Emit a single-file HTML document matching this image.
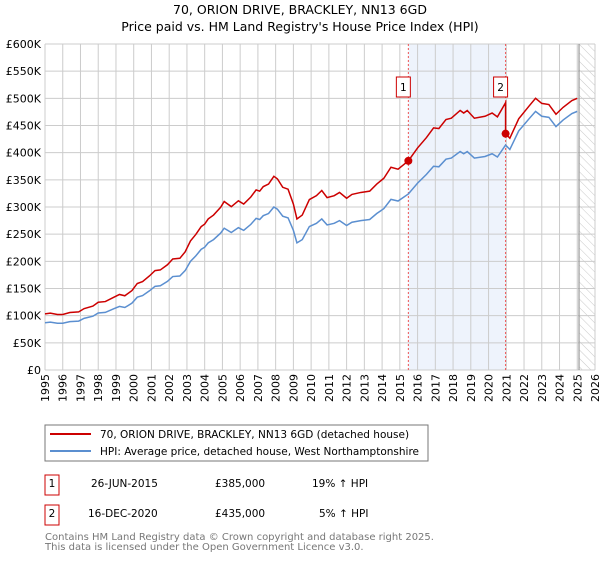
<!DOCTYPE html>
<html><head><meta charset="utf-8"><style>
body{margin:0;background:#fff;font-family:"DejaVu Sans","Liberation Sans",sans-serif;}
svg text{font-family:"DejaVu Sans","Liberation Sans",sans-serif;}
</style></head><body>
<svg id="c" width="600" height="560" viewBox="0 0 600 560">
<defs><pattern id="hatch" width="6" height="6" patternUnits="userSpaceOnUse" patternTransform="rotate(-45)"><line x1="0" y1="0" x2="0" y2="6" stroke="#bbb" stroke-width="0.8"/></pattern></defs>
<text x="300" y="14" text-anchor="middle" font-size="12.5">70, ORION DRIVE, BRACKLEY, NN13 6GD</text>
<text x="300" y="31" text-anchor="middle" font-size="12.5">Price paid vs. HM Land Registry's House Price Index (HPI)</text>
<g id="grid"></g><g id="marks"></g>
<rect x="45" y="425" width="383" height="36" fill="#fff" stroke="#777"/>
<line x1="50" y1="434" x2="91" y2="434" stroke="#cc0000" stroke-width="2"/>
<text x="100" y="438" font-size="10.5">70, ORION DRIVE, BRACKLEY, NN13 6GD (detached house)</text>
<line x1="50" y1="451" x2="91" y2="451" stroke="#5b8fd0" stroke-width="2"/>
<text x="100" y="455" font-size="10.5">HPI: Average price, detached house, West Northamptonshire</text>
<g font-size="10.5">
<rect x="45" y="475" width="14" height="20" fill="none" stroke="#cc0000"/>
<text x="52" y="487" text-anchor="middle">1</text>
<text x="91" y="487">26-JUN-2015</text><text x="215" y="487">£385,000</text><text x="312" y="487">19% ↑ HPI</text>
<rect x="45" y="505" width="14" height="20" fill="none" stroke="#cc0000"/>
<text x="52" y="517" text-anchor="middle">2</text>
<text x="88" y="517">16-DEC-2020</text><text x="215" y="517">£435,000</text><text x="319" y="517">5% ↑ HPI</text>
</g>
<text x="45" y="540" font-size="10" fill="#777">Contains HM Land Registry data © Crown copyright and database right 2025.</text>
<text x="45" y="550" font-size="10" fill="#777">This data is licensed under the Open Government Licence v3.0.</text>
</svg>
<script>
const yTicks=[0,50,100,150,200,250,300,350,400,450,500,550,600];
const yTickLabels=["£0","£50K","£100K","£150K","£200K","£250K","£300K","£350K","£400K","£450K","£500K","£550K","£600K"];
const xYears=[1995,1996,1997,1998,1999,2000,2001,2002,2003,2004,2005,2006,2007,2008,2009,2010,2011,2012,2013,2014,2015,2016,2017,2018,2019,2020,2021,2022,2023,2024,2025,2026];
const hpiDates=[1995.0,1995.3,1995.7,1996.0,1996.4,1996.9,1997.2,1997.7,1998.0,1998.4,1998.9,1999.2,1999.5,1999.9,2000.2,2000.5,2000.9,2001.2,2001.5,2001.9,2002.2,2002.6,2002.9,2003.2,2003.5,2003.8,2004.0,2004.2,2004.5,2004.9,2005.1,2005.5,2005.9,2006.2,2006.6,2006.9,2007.1,2007.3,2007.6,2007.9,2008.1,2008.4,2008.7,2009.0,2009.2,2009.5,2009.9,2010.3,2010.6,2010.9,2011.3,2011.6,2012.0,2012.3,2012.8,2013.3,2013.7,2014.1,2014.5,2014.9,2015.48,2016.0,2016.5,2016.9,2017.2,2017.6,2017.9,2018.4,2018.6,2018.8,2019.2,2019.8,2020.2,2020.5,2020.96,2021.2,2021.7,2022.3,2022.65,2023.0,2023.4,2023.8,2024.2,2024.7,2025.0];
const hpiValues=[87,88,86,86,89,90,95,99,105,106,113,117,115,123,134,137,146,154,155,163,172,173,183,200,210,222,226,234,240,252,261,253,262,257,268,279,277,284,288,300,296,283,280,257,234,240,264,270,278,267,270,275,266,272,275,277,288,297,314,311,324,344,360,375,374,388,390,402,398,402,390,393,398,392,414,406,440,463,476,467,465,448,460,472,476];
const saleDates=[2015.48,2020.96];
const salePrices=[385,435];
const saleLabels=["1","2"];
const dataEnd=2025.1;

const X0=45,X1=595,Y0=370,Y1=44;
const xs=y=>X0+(y-1995)/(2026-1995)*(X1-X0);
const ys=v=>Y0-v/600*(Y0-Y1);
const NS="http://www.w3.org/2000/svg";
function mk(tag,attrs,parent){const e=document.createElementNS(NS,tag);for(const k in attrs)e.setAttribute(k,attrs[k]);parent.appendChild(e);return e;}
const grid=document.getElementById('grid'),marks=document.getElementById('marks');
function hpiAt(t){for(let i=1;i<hpiDates.length;i++){if(t<=hpiDates[i]){const a=hpiDates[i-1],b=hpiDates[i];return hpiValues[i-1]+(hpiValues[i]-hpiValues[i-1])*(t-a)/(b-a);}}return hpiValues[hpiValues.length-1];}
// shaded period between sales
const sh=mk('rect',{x:xs(saleDates[0]),y:Y1,width:xs(saleDates[1])-xs(saleDates[0]),height:Y0-Y1,fill:'#eef3fc'},grid);


const ht=mk('rect',{x:xs(dataEnd),y:Y1,width:X1-xs(dataEnd),height:Y0-Y1,fill:'url(#hatch)'},grid);


yTicks.forEach((v,i)=>{
 const l=mk('line',{x1:X0,x2:X1,y1:ys(v),y2:ys(v),stroke:'#ccc','stroke-width':1},grid);
 
 
 const t=mk('text',{x:X0-4,y:ys(v)+4,'text-anchor':'end','font-size':'11'},grid);
 t.textContent=yTickLabels[i];
 
 
});
xYears.forEach(yr=>{
 const l=mk('line',{x1:xs(yr),x2:xs(yr),y1:Y1,y2:Y0,stroke:'#ccc','stroke-width':1},grid);
 
 
 const t=mk('text',{x:0,y:0,'text-anchor':'end','font-size':'11',transform:`translate(${xs(yr)+4},${Y0+4}) rotate(-90)`},grid);
 t.textContent=yr;
 
 
});
const el=mk('line',{x1:xs(dataEnd),x2:xs(dataEnd),y1:Y1,y2:Y0,stroke:'#999','stroke-width':1.2},grid);


saleDates.forEach((d,i)=>{
 const l=mk('line',{x1:xs(d),x2:xs(d),y1:Y1,y2:Y0,stroke:'#e55','stroke-width':1,'stroke-dasharray':'2,2'},grid);
 
 
});
// HPI line
const hp=mk('polyline',{points:hpiDates.map((d,i)=>xs(d)+','+ys(hpiValues[i])).join(' '),fill:'none',stroke:'#5b8fd0','stroke-width':1.5},marks);


// property line: HPI indexed to each sale
const pts=[];
hpiDates.forEach((d,i)=>{
 let k=d<saleDates[1]?0:1; if(d===saleDates[1])k=0;
 pts.push([d,hpiValues[i]*salePrices[k]/hpiAt(saleDates[k])]);
 if(d===saleDates[1])pts.push([d,salePrices[1]]);
});
const pl=mk('polyline',{points:pts.map(p=>xs(p[0])+','+ys(p[1])).join(' '),fill:'none',stroke:'#cc0000','stroke-width':1.5},marks);


saleDates.forEach((d,i)=>{
 const c=mk('circle',{cx:xs(d),cy:ys(salePrices[i]),r:4,fill:'#cc0000'},marks);
 
 
 const r=mk('rect',{x:xs(d)-12,y:77,width:14,height:20,fill:'#fff',stroke:'#cc0000'},marks);
 
 
 const t=mk('text',{x:xs(d)-5,y:91,'text-anchor':'middle','font-size':'10.5'},marks);
 t.textContent=saleLabels[i];
 
 
});
</script>
</body></html>
